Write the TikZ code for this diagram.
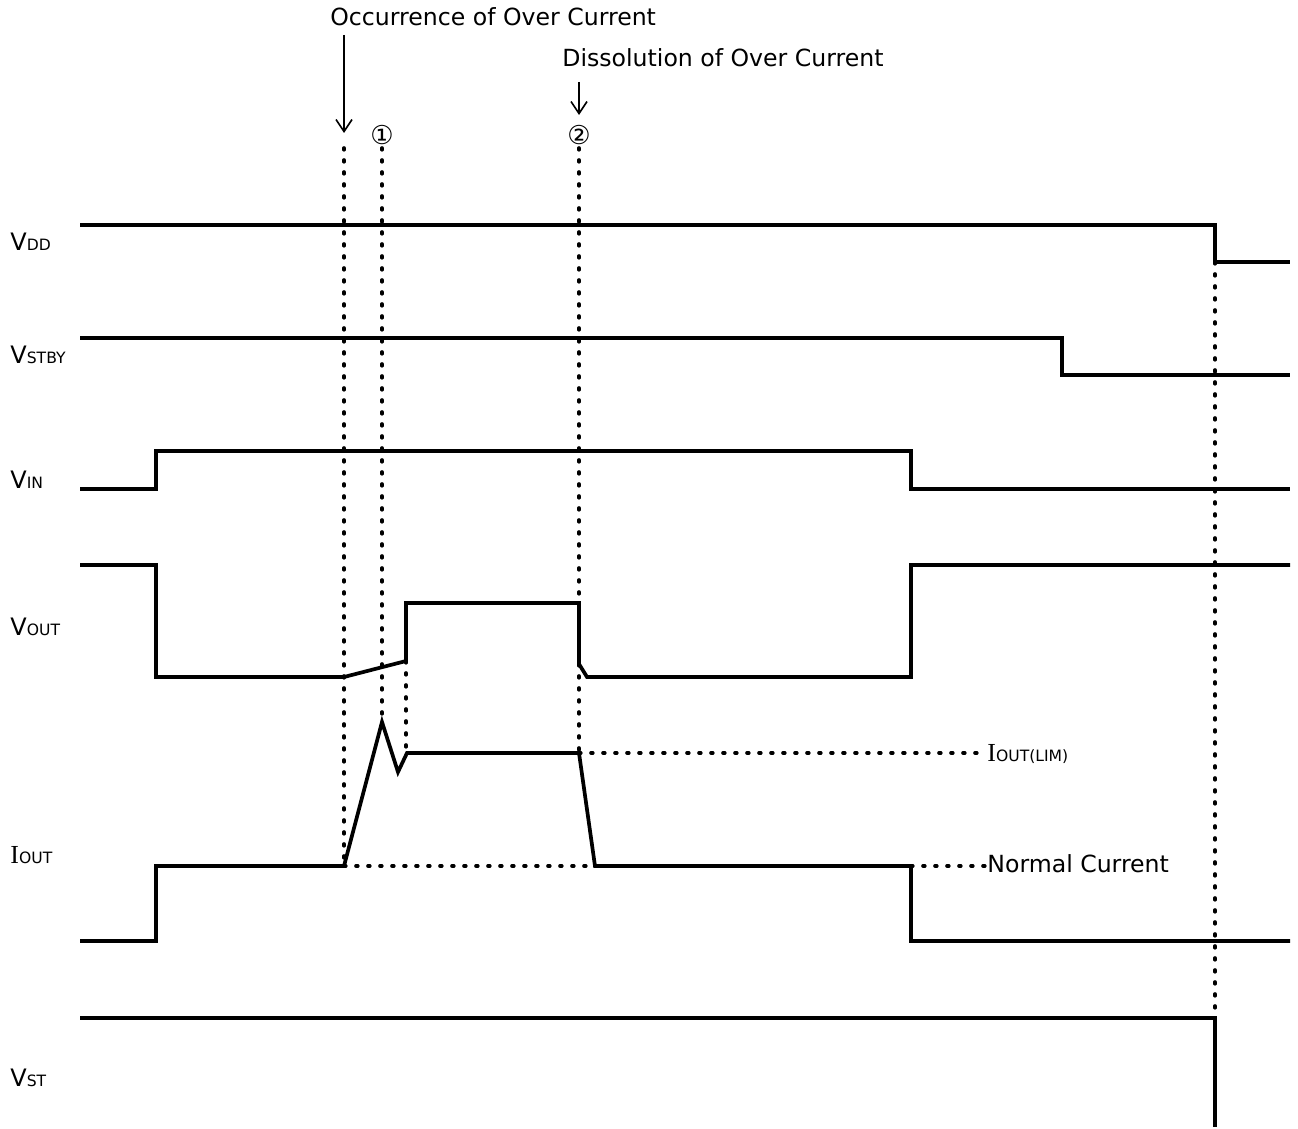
\documentclass[tikz,border=0pt]{standalone}
\usepackage{fontspec}
\setmainfont{DejaVu Sans}
\newfontfamily\serifI{Liberation Serif}
\usetikzlibrary{arrows.meta}
\newcommand\sbs[1]{{\fontsize{7.8}{9}\selectfont #1}}
\newcommand\bigI{{\serifI\fontsize{13}{14}\selectfont I}}
\begin{document}
\begin{tikzpicture}[x=0.5pt,y=-0.5pt,
  sig/.style={line width=1.85pt, line join=miter},
  dots/.style={line width=1.8pt, line cap=round, dash pattern=on 0.9pt off 5.1pt},
  lbl/.style={font=\fontsize{12}{14}\selectfont, inner sep=0pt},
  note/.style={font=\fontsize{11.8}{14}\selectfont, inner sep=0pt},
  circ/.style={font=\fontsize{13}{14}\selectfont, inner sep=0pt},
  pointer/.style={line width=0.8pt, -{Straight Barb[length=6pt,width=8pt]}}]
\useasboundingbox (0,0) rectangle (1298,1129);

% signal names
\node[lbl, anchor=base west] (nvdd)  at (10,250)  {V\sbs{DD}};
\node[lbl, anchor=base west] (nstby) at (10,364)  {V\sbs{STBY}};
\node[lbl, anchor=base west] (nvin)  at (10,488)  {V\sbs{IN}};
\node[lbl, anchor=base west] (nvout) at (10,635)  {V\sbs{OUT}};
\node[lbl, anchor=base west] (niout) at (10,863)  {\bigI\sbs{OUT}};
\node[lbl, anchor=base west] (nvst)  at (10,1086) {V\sbs{ST}};

% waveforms
\draw[sig] (80,225) -- (1215,225) -- (1215,262) -- (1290,262);
\draw[sig] (80,338) -- (1062,338) -- (1062,375) -- (1290,375);
\draw[sig] (80,489) -- (156,489) -- (156,451) -- (911,451) -- (911,489) -- (1290,489);
\draw[sig] (80,565) -- (156,565) -- (156,677) -- (344,677) -- (406,661) -- (406,603)
  -- (579,603) -- (579,664) -- (587,677) -- (911,677) -- (911,565) -- (1290,565);
\draw[sig] (80,941) -- (156,941) -- (156,866) -- (344,866) -- (382,722) -- (398,772)
  -- (407,753) -- (579,753) -- (595,866) -- (911,866) -- (911,941) -- (1290,941);
\draw[sig] (80,1018) -- (1215,1018) -- (1215,1127);

% dotted guides
\draw[dots] (344,148) -- (344,866);
\draw[dots] (382,148) -- (382,722);
\draw[dots] (406,661) -- (406,753);
\draw[dots] (579,148) -- (579,753);
\draw[dots] (1215,262) -- (1215,1018);
\draw[dots] (579,753) -- (985,753);
\draw[dots] (344,866) -- (595,866);
\draw[dots] (911,866) -- (985,866);

% level labels
\node[lbl, anchor=base west] (nlim) at (987,761) {\bigI\sbs{OUT(LIM)}};
\node[note, anchor=base west] (nnorm) at (987,872) {Normal Current};

% event annotations
\node[note, anchor=base west] (nocc) at (330,26) {Occurrence of Over Current};
\node[note, anchor=base west] (ndis) at (562,67) {Dissolution of Over Current};
\coordinate (a1s) at (344,35);
\coordinate (a1e) at (344,133);
\coordinate (a2s) at (579,82);
\coordinate (a2e) at (579,115);
\draw[pointer] (a1s) -- (a1e);
\draw[pointer] (a2s) -- (a2e);
\node[circ] (c1) at (382,135) {①};
\node[circ] (c2) at (579,135) {②};
\end{tikzpicture}
\end{document}
